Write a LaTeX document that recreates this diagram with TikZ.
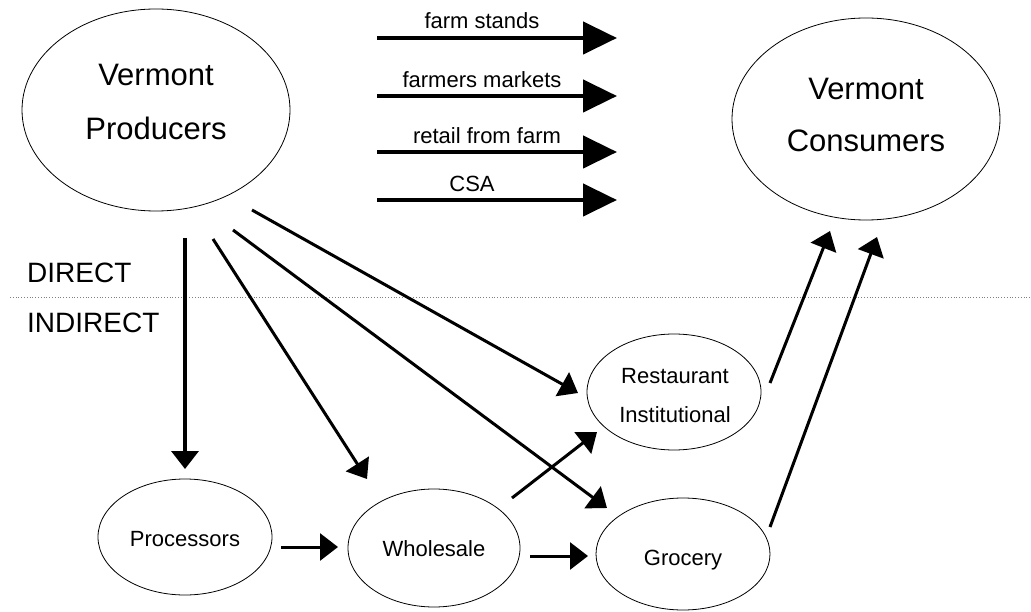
\documentclass[tikz,border=0pt]{standalone}
\usepackage{fontspec}
\setmainfont{Liberation Sans}
\usetikzlibrary{arrows.meta,shapes.geometric}
\begin{document}
\begin{tikzpicture}[x=1pt,y=-1pt,
  ell/.style={draw,ellipse,line width=0.8pt,inner sep=0pt},
  bigtxt/.style={font=\fontsize{31}{37}\selectfont,anchor=base,inner sep=0pt},
  smalltxt/.style={font=\fontsize{22}{26}\selectfont,anchor=base,inner sep=0pt},
  sidetxt/.style={font=\fontsize{28}{34}\selectfont,anchor=base west,inner sep=0pt},
  toparrow/.style={line width=4.5pt,-{Triangle[length=34pt,width=32pt]}},
  flow/.style={line width=3pt,-{Triangle[length=18pt,width=27pt]}},
]
\useasboundingbox (0,0) rectangle (1031,612);

% ellipses
\node[ell,minimum width=268pt,minimum height=202pt] (prod) at (156,110) {};
\node[ell,minimum width=268pt,minimum height=202pt] (cons) at (866,119) {};
\node[ell,minimum width=174pt,minimum height=116pt] (rest) at (674,392) {};
\node[ell,minimum width=174pt,minimum height=112pt] (groc) at (683,554) {};
\node[ell,minimum width=174pt,minimum height=116pt] (proc) at (185,537) {};
\node[ell,minimum width=172pt,minimum height=118pt] (whol) at (434,548) {};

% texts
\node[bigtxt] (prodA) at (156,86) {Vermont};
\node[bigtxt] (prodB) at (156,140) {Producers};
\node[bigtxt] (consA) at (866,100) {Vermont};
\node[bigtxt] (consB) at (866,152) {Consumers};
\node[smalltxt] (restA) at (675,383) {Restaurant};
\node[smalltxt] (restB) at (675,422) {Institutional};
\node[smalltxt] (grocT) at (683,565) {Grocery};
\node[smalltxt] (procT) at (185,546) {Processors};
\node[smalltxt] (wholT) at (434,556) {Wholesale};

\node[sidetxt] (direct) at (27,283) {DIRECT};
\node[sidetxt] (indirect) at (27,333) {INDIRECT};

% dotted divider
\coordinate (divL) at (10,297);
\coordinate (divR) at (1031,297);
\draw[gray,dotted,line width=0.8pt] (divL) -- (divR);

% top direct arrows
\coordinate (a1s) at (377,38);  \coordinate (a1e) at (617,38);
\coordinate (a2s) at (377,96);  \coordinate (a2e) at (617,96);
\coordinate (a3s) at (377,152); \coordinate (a3e) at (617,152);
\coordinate (a4s) at (377,200); \coordinate (a4e) at (617,200);
\draw[toparrow] (a1s) -- (a1e);
\draw[toparrow] (a2s) -- (a2e);
\draw[toparrow] (a3s) -- (a3e);
\draw[toparrow] (a4s) -- (a4e);
\node[smalltxt] (l1) at (482,29) {farm stands};
\node[smalltxt] (l2) at (482,88) {farmers markets};
\node[smalltxt] (l3) at (487,144) {retail from farm};
\node[smalltxt] (l4) at (472,192) {CSA};

% indirect arrows
\coordinate (p1) at (185,238); \coordinate (t1) at (185,469);
\coordinate (p2) at (213,239); \coordinate (t2) at (367,479);
\coordinate (p3) at (233,230); \coordinate (t3) at (607,508);
\coordinate (p4) at (252,210); \coordinate (t4) at (578,393);
\draw[flow,line width=3.5pt] (p1) -- (t1);
\draw[flow] (p2) -- (t2);
\draw[flow] (p3) -- (t3);
\draw[flow] (p4) -- (t4);

\coordinate (pw1) at (281,547); \coordinate (pw2) at (338,547);
\draw[flow] (pw1) -- (pw2);
\coordinate (wg1) at (530,556); \coordinate (wg2) at (588,556);
\draw[flow] (wg1) -- (wg2);
\coordinate (wr1) at (512,498); \coordinate (wr2) at (597,432);
\draw[flow] (wr1) -- (wr2);
\coordinate (rc1) at (770,383); \coordinate (rc2) at (830,231);
\draw[flow] (rc1) -- (rc2);
\coordinate (gc1) at (770,527); \coordinate (gc2) at (877,237);
\draw[flow] (gc1) -- (gc2);
\end{tikzpicture}
\end{document}
